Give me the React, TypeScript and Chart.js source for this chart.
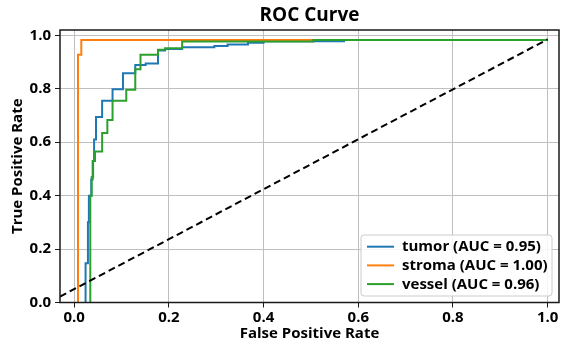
import { useEffect, useRef } from "react";
import { Chart, registerables } from "chart.js";

Chart.register(...registerables);

// ROC curve points (false positive rate / true positive rate)
const tumorFpr = [0.024, 0.024, 0.029, 0.029, 0.031, 0.031, 0.036, 0.036, 0.039, 0.039, 0.042, 0.042, 0.046, 0.046, 0.059, 0.059, 0.081, 0.081, 0.103, 0.103, 0.129, 0.129, 0.151, 0.151, 0.177, 0.177, 0.192, 0.192, 0.228, 0.228, 0.296, 0.296, 0.324, 0.324, 0.367, 0.367, 0.4, 0.4, 0.57, 0.57, 1.0];
const tumorTpr = [0.0, 0.147, 0.147, 0.3, 0.3, 0.4, 0.4, 0.46, 0.46, 0.53, 0.53, 0.61, 0.61, 0.694, 0.694, 0.755, 0.755, 0.798, 0.798, 0.858, 0.858, 0.889, 0.889, 0.895, 0.895, 0.943, 0.943, 0.949, 0.949, 0.955, 0.955, 0.96, 0.96, 0.966, 0.966, 0.972, 0.972, 0.978, 0.978, 0.983, 0.983];

const stromaFpr = [0.008, 0.008, 0.015, 0.015, 1.0];
const stromaTpr = [0.0, 0.927, 0.927, 0.983, 0.983];

const vesselFpr = [0.034, 0.034, 0.037, 0.037, 0.04, 0.04, 0.044, 0.044, 0.059, 0.059, 0.07, 0.07, 0.081, 0.081, 0.11, 0.11, 0.129, 0.129, 0.14, 0.14, 0.177, 0.177, 0.192, 0.192, 0.228, 0.228, 0.505, 0.505, 1.0];
const vesselTpr = [0.0, 0.4, 0.4, 0.47, 0.47, 0.53, 0.53, 0.565, 0.565, 0.634, 0.634, 0.683, 0.683, 0.755, 0.755, 0.796, 0.796, 0.873, 0.873, 0.927, 0.927, 0.946, 0.946, 0.952, 0.952, 0.977, 0.977, 0.983, 0.983];

const chanceFpr = [-0.03, 1.0];
const chanceTpr = [0.022, 0.985];

const seriesLabels = ["tumor (AUC = 0.95)", "stroma (AUC = 1.00)", "vessel (AUC = 0.96)"];
const xTicks = [0, 0.2, 0.4, 0.6, 0.8, 1.0];
const yTicks = [0, 0.2, 0.4, 0.6, 0.8, 1.0];

const FAMILY = "'Open Sans', 'DejaVu Sans', sans-serif";
const COLORS = ["#1f77b4", "#ff7f0e", "#2ca02c"];

export default function App() {
  const ref = useRef<HTMLCanvasElement>(null);

  useEffect(() => {
    if (!ref.current) return;
    const toPts = (xs: number[], ys: number[]) => xs.map((x, i) => ({ x, y: ys[i] }));

    const framePlugin = {
      id: "frame",
      afterDatasetsDraw(chart: any) {
        const { ctx, chartArea: a } = chart;
        ctx.save();
        ctx.strokeStyle = "#1a1a1a";
        ctx.lineWidth = 1.5;
        ctx.strokeRect(a.left, a.top, a.right - a.left, a.bottom - a.top);
        ctx.restore();
      },
    };

    const legendPlugin = {
      id: "boxLegend",
      afterDraw(chart: any) {
        const { ctx, chartArea: a } = chart;
        const w = 191;
        const h = 61;
        const x0 = a.right - 7 - w;
        const y0 = a.bottom - 6.5 - h;
        ctx.save();
        ctx.beginPath();
        if (ctx.roundRect) ctx.roundRect(x0, y0, w, h, 3);
        else ctx.rect(x0, y0, w, h);
        ctx.fillStyle = "rgba(255,255,255,0.85)";
        ctx.fill();
        ctx.strokeStyle = "#cccccc";
        ctx.lineWidth = 1;
        ctx.stroke();
        ctx.font = `bold 15px ${FAMILY}`;
        ctx.textBaseline = "middle";
        ctx.fillStyle = "#000";
        seriesLabels.forEach((lab, i) => {
          const yy = y0 + 11.7 + i * 18.7;
          ctx.beginPath();
          ctx.strokeStyle = COLORS[i];
          ctx.lineWidth = 2;
          ctx.moveTo(x0 + 6, yy);
          ctx.lineTo(x0 + 33, yy);
          ctx.stroke();
          ctx.fillText(lab, x0 + 41, yy + 0.5);
        });
        ctx.restore();
      },
    };

    const tickFont = { family: FAMILY, size: 15, weight: "bold" as const };
    const labelFont = { family: FAMILY, size: 15, weight: "bold" as const };

    const chart = new Chart(ref.current, {
      type: "line",
      data: {
        datasets: [
          { label: seriesLabels[0], data: toPts(tumorFpr, tumorTpr), borderColor: COLORS[0], borderWidth: 2, pointRadius: 0, fill: false, tension: 0, order: 3 },
          { label: seriesLabels[1], data: toPts(stromaFpr, stromaTpr), borderColor: COLORS[1], borderWidth: 2, pointRadius: 0, fill: false, tension: 0, order: 2 },
          { label: seriesLabels[2], data: toPts(vesselFpr, vesselTpr), borderColor: COLORS[2], borderWidth: 2, pointRadius: 0, fill: false, tension: 0, order: 1 },
          { label: "chance", data: toPts(chanceFpr, chanceTpr), borderColor: "#000", borderDash: [7, 4], borderWidth: 2, pointRadius: 0, fill: false, tension: 0, order: 0 },
        ],
      },
      options: {
        animation: false,
        responsive: false,
        events: [],
        layout: { padding: { left: 0, right: 7, top: 0, bottom: 0 } },
        plugins: {
          legend: { display: false },
          tooltip: { enabled: false },
          title: {
            display: true,
            text: "ROC Curve",
            fullSize: false,
            color: "#000",
            font: { family: FAMILY, size: 19, weight: "bold" },
            padding: { top: 4, bottom: 3.2 },
          },
        },
        scales: {
          x: {
            type: "linear",
            min: -0.03,
            max: 1.024,
            afterBuildTicks: (s: any) => {
              s.ticks = xTicks.map((v) => ({ value: v }));
            },
            afterFit: (s: any) => {
              s.height = 41.5;
            },
            ticks: { callback: (v: any) => Number(v).toFixed(1), font: tickFont, color: "#000", padding: 1, maxRotation: 0, autoSkip: false },
            grid: { color: "#bfbfbf", lineWidth: 1, tickLength: 5, tickColor: "#1a1a1a", drawTicks: true },
            border: { display: false },
            title: { display: true, text: "False Positive Rate", color: "#000", font: labelFont, padding: { top: 1, bottom: 1 } },
          },
          y: {
            type: "linear",
            min: 0,
            max: 1.02,
            afterBuildTicks: (s: any) => {
              s.ticks = yTicks.map((v) => ({ value: v }));
            },
            afterFit: (s: any) => {
              s.width = 60;
            },
            ticks: { callback: (v: any) => Number(v).toFixed(1), font: tickFont, color: "#000", padding: 4, autoSkip: false },
            grid: { color: "#bfbfbf", lineWidth: 1, tickLength: 5, tickColor: "#1a1a1a", drawTicks: true },
            border: { display: false },
            title: { display: true, text: "True Positive Rate", color: "#000", font: labelFont, padding: { top: 9, bottom: 2 } },
          },
        },
      },
      plugins: [framePlugin, legendPlugin],
    });
    return () => chart.destroy();
  }, []);

  return (
    <div style={{ position: "fixed", left: 0, top: 0, width: 566, height: 344, background: "#fff" }}>
      <canvas ref={ref} width={566} height={344} style={{ display: "block", width: 566, height: 344 }} />
    </div>
  );
}
